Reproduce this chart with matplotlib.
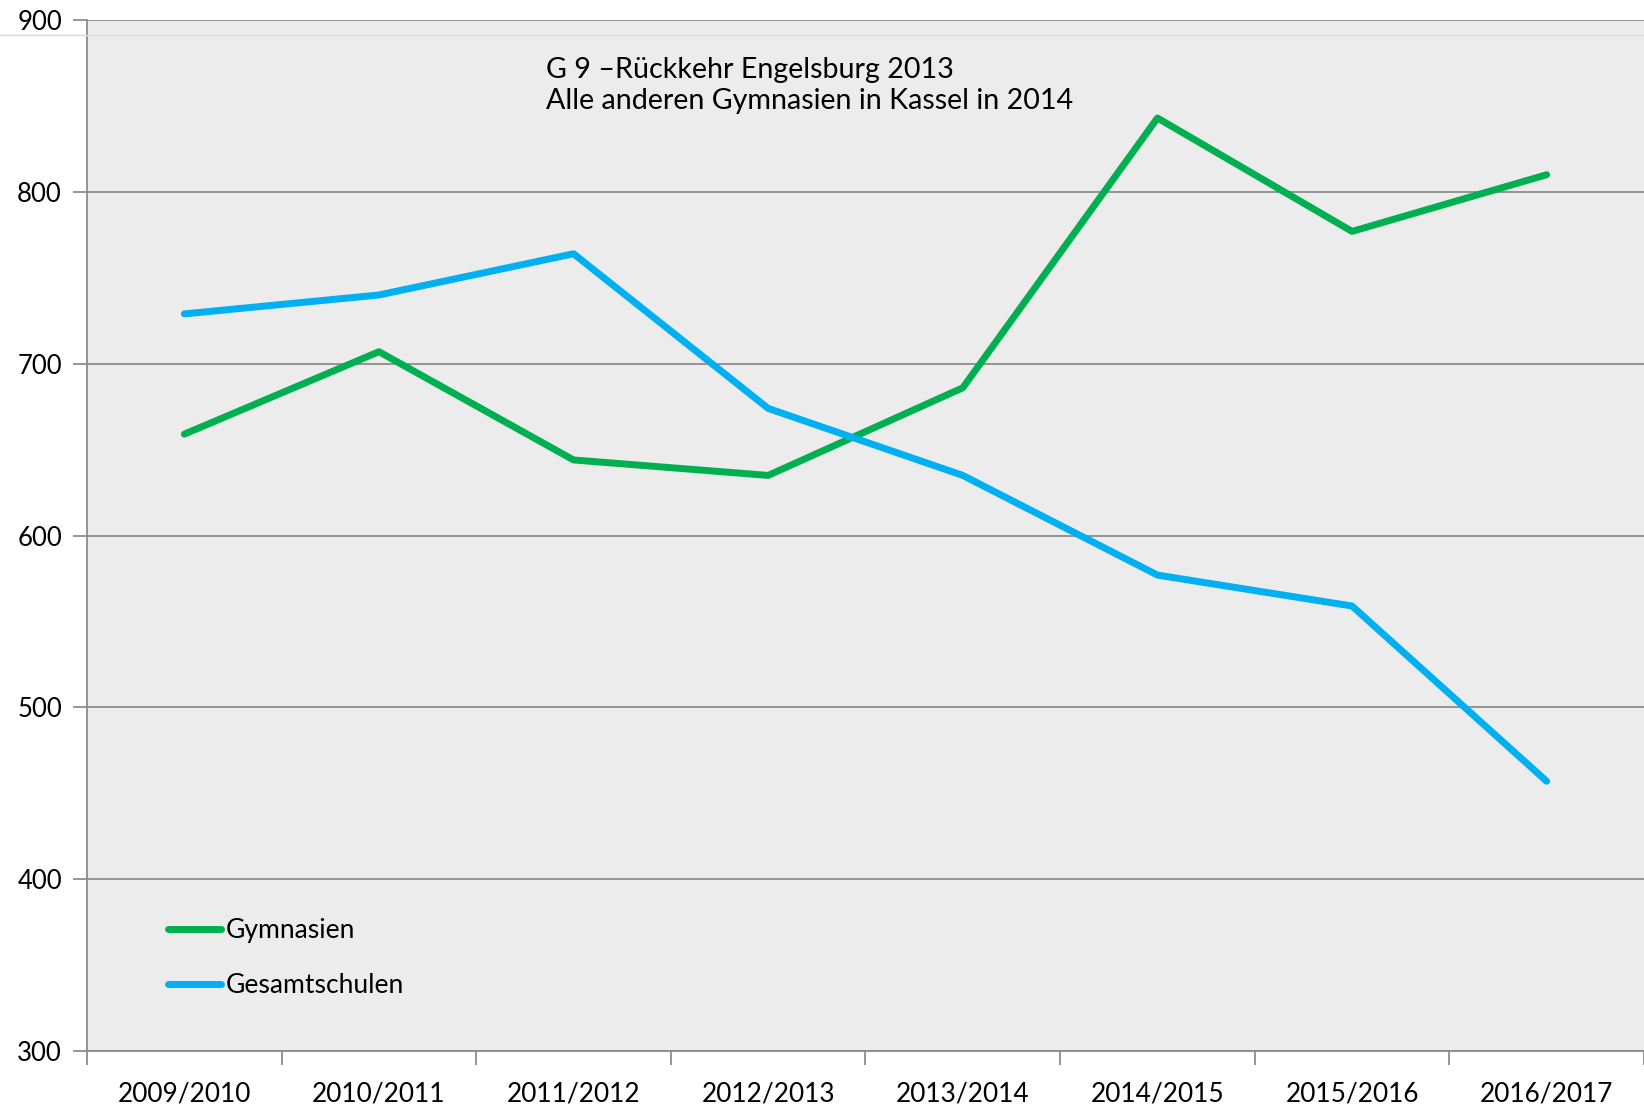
import matplotlib.pyplot as plt
from matplotlib.lines import Line2D

plt.rcParams['font.family'] = ['Lato', 'DejaVu Sans']

jahre = ['2009/2010', '2010/2011', '2011/2012', '2012/2013',
         '2013/2014', '2014/2015', '2015/2016', '2016/2017']
gymnasien = [659, 707, 644, 635, 686, 843, 777, 810]
gesamtschulen = [729, 740, 764, 674, 635, 577, 559, 457]

gruen = '#00b050'
blau = '#00b0f0'
grau = '#8c8c8c'

fig = plt.figure(figsize=(16.44, 11.08), dpi=100)
ax = fig.add_axes([0.0529, 0.0514, 0.9471, 0.9305])
ax.set_facecolor('#ececec')

x = list(range(len(jahre)))
ax.plot(x, gymnasien, color=gruen, lw=5, solid_capstyle='round', label='Gymnasien', zorder=3)
ax.plot(x, gesamtschulen, color=blau, lw=5, solid_capstyle='round', label='Gesamtschulen', zorder=3)

ax.set_xlim(-0.5, 7.5)
ax.set_ylim(300, 900)
ax.set_yticks(range(300, 901, 100))
ax.yaxis.grid(True, color=grau, lw=1.3)
ax.set_axisbelow(True)

# Kategorie-Beschriftungen mittig, Striche an den Grenzen
ax.set_xticks(x)
ax.set_xticklabels(jahre, fontsize=18.9)
ax.tick_params(axis='x', length=0, pad=22)
ax.set_xticks([i - 0.5 for i in range(len(jahre) + 1)], minor=True)
ax.tick_params(axis='x', which='minor', length=10, color=grau, width=1.3)
ax.tick_params(axis='y', length=10, color=grau, width=1.3, labelsize=18.5, pad=8)

for s in ['top', 'right']:
    ax.spines[s].set_visible(False)
for s in ['left', 'bottom']:
    ax.spines[s].set_color(grau)
    ax.spines[s].set_linewidth(1.3)

# helle Linie oben
fig.add_artist(Line2D([0, 1], [1 - 35 / 1108, 1 - 35 / 1108], color='#d9d9d9', lw=1))

ax.text(1.86, 878.5, 'G 9 \u2013R\u00fcckkehr Engelsburg 2013\nAlle anderen Gymnasien in Kassel in 2014',
        fontsize=20.6, va='top', ha='left', linespacing=1.22)

ax.legend(loc='upper left', bbox_to_anchor=(0.0455, 0.139), frameon=False, fontsize=19.1,
          handlelength=2.0, handletextpad=0.15, labelspacing=1.12, borderaxespad=0)

fig.savefig('out.png', dpi=100)
